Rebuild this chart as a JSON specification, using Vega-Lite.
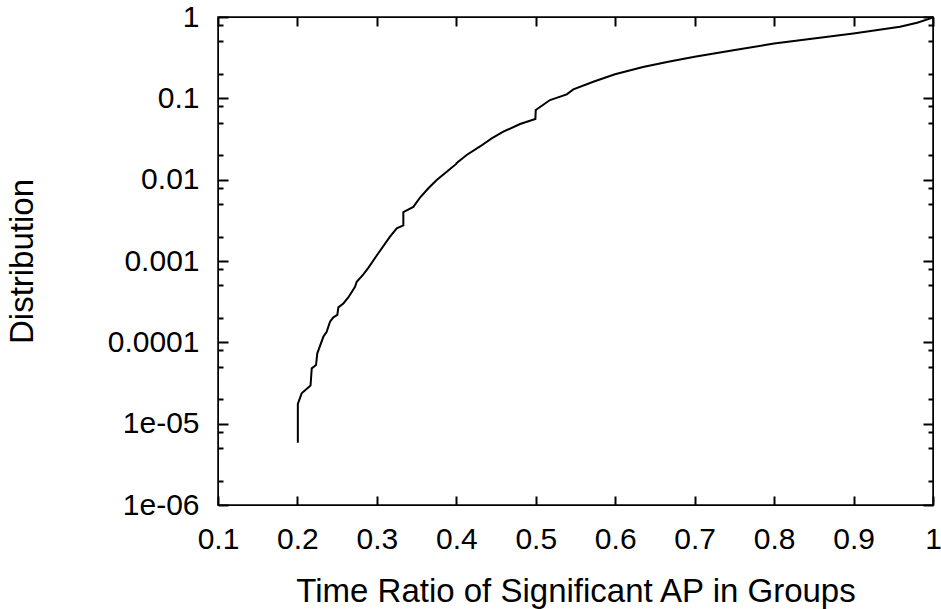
{
  "$schema": "https://vega.github.io/schema/vega-lite/v6.json",
  "width": 715,
  "height": 488,
  "autosize": {"type": "none"},
  "padding": {"left": 218, "top": 17, "right": 8, "bottom": 104},
  "background": "white",
  "config": {
    "view": {"stroke": "black", "strokeWidth": 1.5},
    "font": "Liberation Sans",
    "axis": {
      "grid": false,
      "domainColor": "black",
      "labelColor": "black",
      "labelFont": "Liberation Sans",
      "labelFontSize": 30,
      "titleFont": "Liberation Sans",
      "titleFontSize": 33,
      "titleFontWeight": "normal",
      "titleColor": "black"
    }
  },
  "data": {
    "values": [
      {"i": 1, "x": 0.2005, "y": 5.83e-6},
      {"i": 2, "x": 0.2005, "y": 1.75e-5},
      {"i": 3, "x": 0.2053, "y": 2.36e-5},
      {"i": 4, "x": 0.2158, "y": 2.9e-5},
      {"i": 5, "x": 0.2165, "y": 2.95e-5},
      {"i": 6, "x": 0.218, "y": 4.79e-5},
      {"i": 7, "x": 0.2234, "y": 5.26e-5},
      {"i": 8, "x": 0.225, "y": 7.33e-5},
      {"i": 9, "x": 0.2326, "y": 1.17e-4},
      {"i": 10, "x": 0.2368, "y": 1.35e-4},
      {"i": 11, "x": 0.241, "y": 1.79e-4},
      {"i": 12, "x": 0.2452, "y": 2.03e-4},
      {"i": 13, "x": 0.2502, "y": 2.17e-4},
      {"i": 14, "x": 0.2515, "y": 2.69e-4},
      {"i": 15, "x": 0.2578, "y": 3.01e-4},
      {"i": 16, "x": 0.264, "y": 3.56e-4},
      {"i": 17, "x": 0.2725, "y": 4.83e-4},
      {"i": 18, "x": 0.2746, "y": 5.56e-4},
      {"i": 19, "x": 0.283, "y": 6.84e-4},
      {"i": 20, "x": 0.2892, "y": 8.22e-4},
      {"i": 21, "x": 0.2998, "y": 1.17e-3},
      {"i": 22, "x": 0.3165, "y": 1.99e-3},
      {"i": 23, "x": 0.325, "y": 2.52e-3},
      {"i": 24, "x": 0.3333, "y": 2.74e-3},
      {"i": 25, "x": 0.3333, "y": 3.98e-3},
      {"i": 26, "x": 0.3459, "y": 4.62e-3},
      {"i": 27, "x": 0.3543, "y": 6.03e-3},
      {"i": 28, "x": 0.3648, "y": 7.83e-3},
      {"i": 29, "x": 0.3753, "y": 9.91e-3},
      {"i": 30, "x": 0.3879, "y": 1.25e-2},
      {"i": 31, "x": 0.3995, "y": 1.55e-2},
      {"i": 32, "x": 0.4005, "y": 1.6e-2},
      {"i": 33, "x": 0.413, "y": 2.01e-2},
      {"i": 34, "x": 0.4298, "y": 2.56e-2},
      {"i": 35, "x": 0.4445, "y": 3.22e-2},
      {"i": 36, "x": 0.4591, "y": 3.89e-2},
      {"i": 37, "x": 0.4802, "y": 4.83e-2},
      {"i": 38, "x": 0.4995, "y": 5.56e-2},
      {"i": 39, "x": 0.5, "y": 7.19e-2},
      {"i": 40, "x": 0.5179, "y": 9.53e-2},
      {"i": 41, "x": 0.539, "y": 0.112},
      {"i": 42, "x": 0.5473, "y": 0.129},
      {"i": 43, "x": 0.5724, "y": 0.16},
      {"i": 44, "x": 0.5997, "y": 0.198},
      {"i": 45, "x": 0.635, "y": 0.243},
      {"i": 46, "x": 0.6668, "y": 0.282},
      {"i": 47, "x": 0.7, "y": 0.324},
      {"i": 48, "x": 0.7487, "y": 0.389},
      {"i": 49, "x": 0.8, "y": 0.472},
      {"i": 50, "x": 0.8998, "y": 0.627},
      {"i": 51, "x": 0.9585, "y": 0.76},
      {"i": 52, "x": 0.98, "y": 0.851},
      {"i": 53, "x": 0.996, "y": 0.955},
      {"i": 54, "x": 1.0, "y": 1.0}
    ]
  },
  "layer": [
    {
      "mark": {"type": "line", "color": "black", "strokeWidth": 2},
      "encoding": {
        "x": {
          "field": "x", "type": "quantitative",
          "scale": {"domain": [0.1, 1], "nice": false, "zero": false},
          "axis": {
            "orient": "bottom",
            "title": "Time Ratio of Significant AP in Groups",
            "values": [0.1, 0.2, 0.3, 0.4, 0.5, 0.6, 0.7, 0.8, 0.9, 1],
            "format": "~g",
            "labelFlush": false,
            "tickColor": "#000000",
            "tickWidth": 2,
            "tickSize": -9,
            "labelPadding": 28,
            "titlePadding": 21
          }
        },
        "y": {
          "field": "y", "type": "quantitative",
          "scale": {"type": "log", "domain": [1e-6, 1], "nice": false},
          "axis": {
            "orient": "left",
            "title": "Distribution",
            "values": [1e-6, 2e-6, 5e-6, 8e-6, 1e-5, 2e-5, 5e-5, 8e-5, 1e-4, 2e-4, 5e-4, 8e-4, 1e-3, 2e-3, 5e-3, 8e-3, 0.01, 0.02, 0.05, 0.08, 0.1, 0.2, 0.5, 0.8, 1],
            "labelExpr": "abs(log(datum.value)/LN10 - round(log(datum.value)/LN10)) > 0.01 ? '' : ['1e-06','1e-05','0.0001','0.001','0.01','0.1','1'][round(log(datum.value)/LN10)+6]",
            "labelOverlap": false,
            "tickColor": "#000000",
            "tickWidth": 2,
            "tickSize": {"condition": {"test": "abs(log(datum.value)/LN10 - round(log(datum.value)/LN10)) < 0.01", "value": -10}, "value": -5},
            "labelPadding": 29,
            "titlePadding": 68
          }
        },
        "order": {"field": "i", "type": "quantitative"}
      }
    },
    {
      "mark": {"type": "line", "opacity": 0},
      "encoding": {
        "x": {
          "field": "x", "type": "quantitative",
          "axis": {
            "orient": "top",
            "title": null,
            "labels": false,
            "values": [0.1, 0.2, 0.3, 0.4, 0.5, 0.6, 0.7, 0.8, 0.9, 1],
            "tickColor": "#000000",
            "tickWidth": 2,
            "tickSize": -9
          }
        },
        "y": {
          "field": "y", "type": "quantitative",
          "axis": {
            "orient": "right",
            "title": null,
            "labels": false,
            "values": [1e-6, 2e-6, 5e-6, 8e-6, 1e-5, 2e-5, 5e-5, 8e-5, 1e-4, 2e-4, 5e-4, 8e-4, 1e-3, 2e-3, 5e-3, 8e-3, 0.01, 0.02, 0.05, 0.08, 0.1, 0.2, 0.5, 0.8, 1],
            "tickColor": "#000000",
            "tickWidth": 2,
            "tickSize": {"condition": {"test": "abs(log(datum.value)/LN10 - round(log(datum.value)/LN10)) < 0.01", "value": -10}, "value": -5}
          }
        },
        "order": {"field": "i", "type": "quantitative"}
      }
    }
  ],
  "resolve": {"axis": {"x": "independent", "y": "independent"}}
}
